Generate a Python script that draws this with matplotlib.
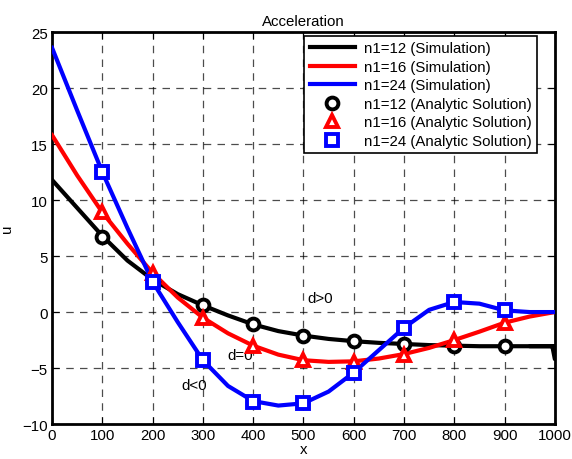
import matplotlib
matplotlib.use("Agg")
import matplotlib.pyplot as plt

plt.rcParams['font.family'] = ['Liberation Sans', 'DejaVu Sans']

# simulation curves
x_sim = [0, 50, 100, 150, 200, 250, 300, 350, 400, 450, 500, 550, 600, 650,
         700, 750, 800, 850, 900, 950, 1000]
u12_sim = [11.8, 9.3, 6.8, 4.6, 2.9, 1.6, 0.6, -0.3, -1.1, -1.7, -2.1, -2.4,
           -2.6, -2.75, -2.85, -2.95, -3.0, -3.05, -3.05, -3.05, -3.05]
u16_sim = [15.8, 12.2, 8.9, 6.1, 3.5, 1.3, -0.5, -1.9, -3.0, -3.8, -4.3, -4.45,
           -4.4, -4.15, -3.75, -3.2, -2.5, -1.75, -0.95, -0.4, 0.0]
u24_sim = [23.6, 18.0, 12.5, 7.5, 2.7, -0.9, -4.3, -6.6, -7.95, -8.35, -8.15,
           -7.1, -5.4, -3.4, -1.4, 0.2, 0.9, 0.75, 0.15, 0.0, 0.0]
# little drop at the right end of the n1=12 curve
x12_tail = [995, 1000]
u12_tail = [-3.05, -4.2]

# analytic solution points
x_an = [100, 200, 300, 400, 500, 600, 700, 800, 900]
u12_an = [6.7, 2.8, 0.6, -1.05, -2.1, -2.6, -2.85, -3.05, -3.05]
u16_an = [8.9, 3.5, -0.5, -3.0, -4.25, -4.45, -3.8, -2.5, -0.95]
u24_an = [12.5, 2.7, -4.3, -8.0, -8.15, -5.4, -1.4, 0.9, 0.15]

fs = 10.8

fig = plt.figure(figsize=(5.72, 4.60), dpi=100)
ax = fig.add_axes([0.091, 0.076, 0.879, 0.852])

lw = 3.0
ax.plot(x_sim, u12_sim, color='black', lw=lw, label='n1=12 (Simulation)', zorder=3)
ax.plot(x_sim[-2:] + x12_tail, u12_sim[-2:] + u12_tail, color='black', lw=lw,
        solid_capstyle='round', zorder=3)
ax.plot(x_sim, u16_sim, color='red', lw=lw, label='n1=16 (Simulation)', zorder=3)
ax.plot(x_sim, u24_sim, color='blue', lw=lw, label='n1=24 (Simulation)', zorder=3)

mk = dict(linestyle='none', markersize=8.5, markeredgewidth=2.8,
          markerfacecolor='white', zorder=4)
ax.plot(x_an, u12_an, marker='o', markeredgecolor='black',
        label='n1=12 (Analytic Solution)', **mk)
ax.plot(x_an, u16_an, marker='^', markeredgecolor='red',
        label='n1=16 (Analytic Solution)', **mk)
ax.plot(x_an, u24_an, marker='s', markeredgecolor='blue',
        label='n1=24 (Analytic Solution)', **mk)

ax.text(533, 0.6, 'd>0', fontsize=fs, ha='center', va='bottom')
ax.text(374, -3.8, 'd=0', fontsize=fs, ha='center', va='center')
ax.text(282, -6.5, 'd<0', fontsize=fs, ha='center', va='center')

ax.set_xlim(0, 1000)
ax.set_ylim(-10, 25)
ax.set_xticks(range(0, 1001, 100))
ax.set_yticks(range(-10, 26, 5))
ax.grid(True, color='black', linestyle=(0, (6, 5)), linewidth=0.9, alpha=0.7)
ax.tick_params(direction='in', top=True, right=True, labelsize=fs,
               length=5, width=0.8, pad=3)
for s in ax.spines.values():
    s.set_linewidth(2.0)

ax.set_title('Acceleration', fontsize=fs, pad=5)
ax.set_xlabel('x', fontsize=fs, labelpad=0)
ax.set_ylabel('u', fontsize=fs, labelpad=6)

leg = ax.legend(loc='upper right', bbox_to_anchor=(0.964, 0.99), fontsize=fs,
                handlelength=3.0, borderaxespad=0.0, labelspacing=0.3,
                handletextpad=0.6, fancybox=False, framealpha=1,
                edgecolor='black', borderpad=0.35)
leg.get_frame().set_linewidth(1.2)

fig.savefig('out.png', dpi=100)
